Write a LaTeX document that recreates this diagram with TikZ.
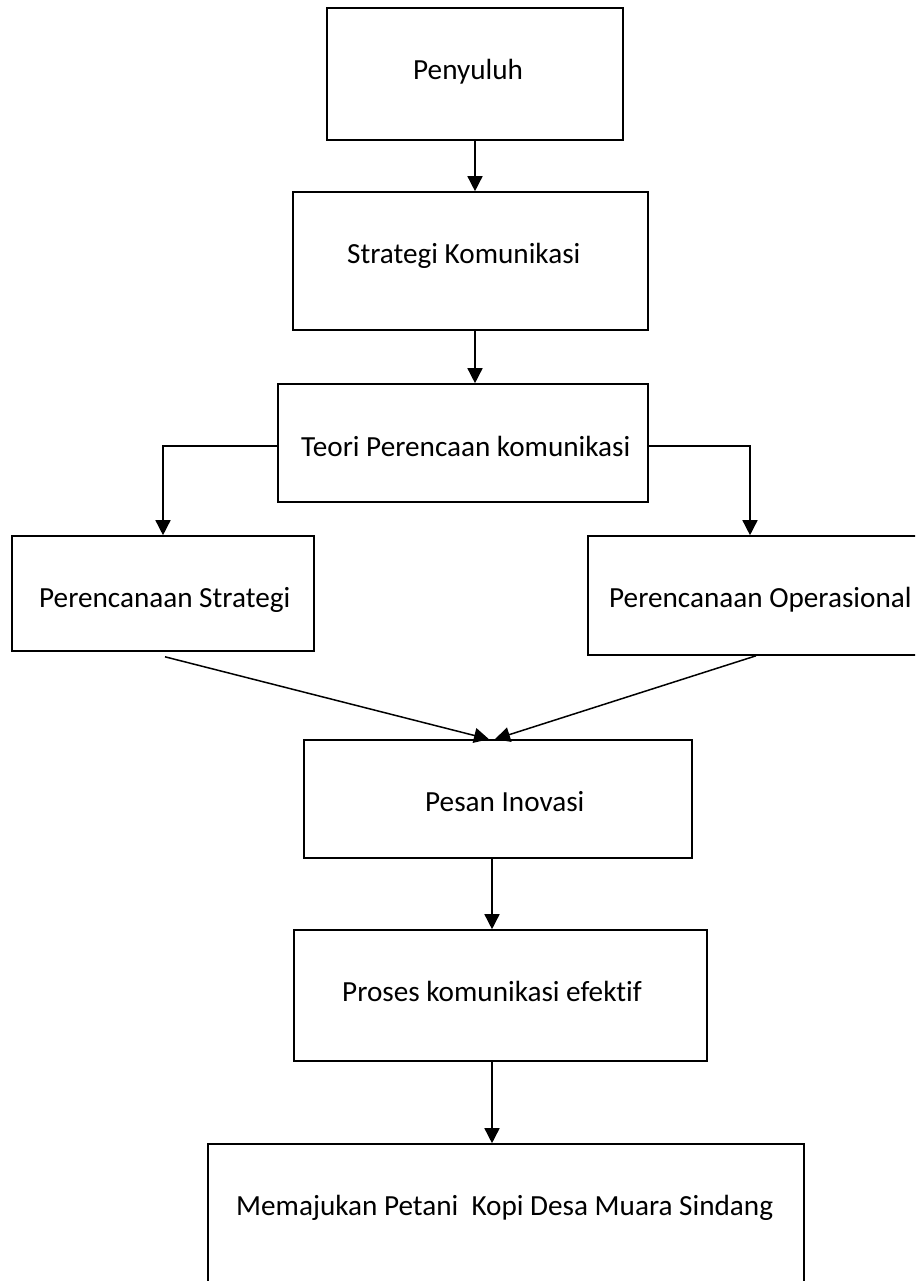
\documentclass[tikz,border=0pt]{standalone}
\usepackage{fontspec}
\setmainfont[Ligatures=NoCommon]{Carlito}
\usetikzlibrary{arrows.meta}
\tikzset{
  box/.style={draw=black, line width=1.6pt, rectangle, inner sep=0pt},
  lbl/.style={anchor=base west, inner sep=0pt, font=\fontsize{29.2}{35}\selectfont},
  arr/.style={draw=black, line width=1.5pt, -{Triangle[length=15pt,width=15pt]}},
  ln/.style={draw=black, line width=1.5pt}
}
\begin{document}
\begin{tikzpicture}[x=1pt,y=-1pt]
\useasboundingbox (0,0) rectangle (915,1281);
\clip (0,0) rectangle (915,1281);
\fill[white] (0,0) rectangle (915,1281);
% boxes
\node[box, minimum width=296pt, minimum height=132pt] (pen) at (475,74) {};
\node[box, minimum width=355pt, minimum height=138pt] (str) at (470.5,261) {};
\node[box, minimum width=370pt, minimum height=118pt] (teo) at (463,443) {};
\node[box, minimum width=302pt, minimum height=115pt] (ps) at (163,593.5) {};
\node[box, minimum width=352pt, minimum height=119pt] (po) at (764,595.5) {};
\node[box, minimum width=388pt, minimum height=118pt] (pes) at (498,799) {};
\node[box, minimum width=413pt, minimum height=131pt] (pro) at (500.5,995.5) {};
\node[box, minimum width=596pt, minimum height=156pt] (mem) at (506,1222) {};
% texts
\node[lbl] (penT) at (413,80) {Penyuluh};
\node[lbl] (strT) at (347,263) {Strategi Komunikasi};
\node[lbl] (teoT) at (301,456) {Teori Perencaan komunikasi};
\node[lbl] (psT) at (39,607) {Perencanaan Strategi};
\node[lbl] (poT) at (609,607) {Perencanaan Operasional};
\node[lbl] (pesT) at (425,811) {Pesan Inovasi};
\node[lbl] (proT) at (342,1001) {Proses komunikasi efektif};
\node[lbl] (memT) at (236,1215) {Memajukan Petani\ \ Kopi Desa Muara Sindang};
% guide coordinates
\coordinate (cA) at (475,0);
\coordinate (cB) at (492,0);
\coordinate (cR) at (750,0);
% connectors
\draw[arr] (pen.south -| cA) -- (str.north -| cA);
\draw[arr] (str.south -| cA) -- (teo.north -| cA);
\draw[arr] (teo.west |- 0,446) -| (ps.north);
\draw[arr] (teo.east |- 0,446) -| (po.north -| cR);
\draw[arr] ([shift={(2,5)}]ps.south) -- ([xshift=-9pt]pes.north);
\draw[arr] ([shift={(-8,0)}]po.south) -- ([xshift=-3pt]pes.north);
\draw[arr] (pes.south -| cB) -- (pro.north -| cB);
\draw[arr] (pro.south -| cB) -- (mem.north -| cB);
\end{tikzpicture}
\end{document}
